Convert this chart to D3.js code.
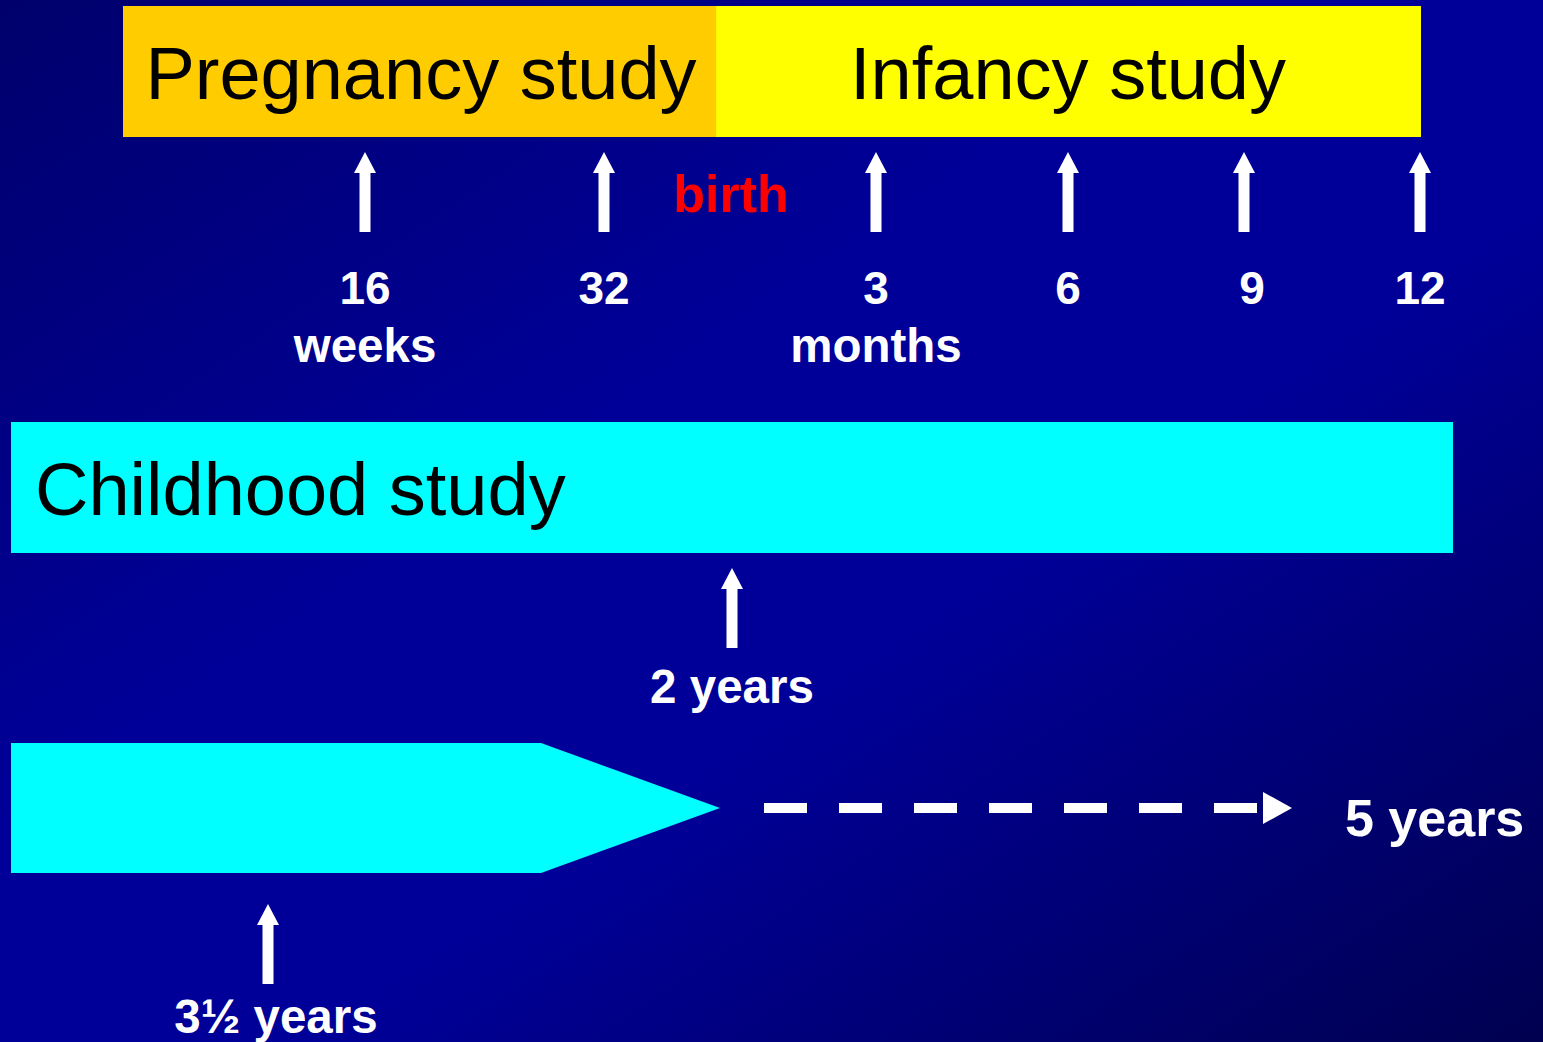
<!DOCTYPE html>
<html>
<head>
<meta charset="utf-8">
<title>Study timeline</title>
<script src="https://d3js.org/d3.v7.min.js"></script>
<style>
  body { margin: 0; background: #000080; overflow: hidden; }
  text { font-family: "Liberation Sans", Arial, sans-serif; }
</style>
</head>
<body>
<script>
    var studyNames = ["Pregnancy study", "Infancy study", "Childhood study"];
    var pregnancyWeeks = [16, 32];
    var pregnancyLabels = [["16", "weeks"], ["32"]];
    var infancyMonths = [3, 6, 9, 12];
    var infancyLabels = [["3", "months"], ["6"], ["9"], ["12"]];
    var birthWeek = 40;
    var childhoodYears = [2];
    var childhoodLabels = ["2 years"];
    var followUpYears = [3.5];
    var followUpLabels = ["3\u00bd years"];
    var followUpEnd = 5;
    var followUpEndLabel = "5 years";

    var width = 1543, height = 1042;

    var svg = d3.select("body").append("svg")
        .attr("width", width)
        .attr("height", height);

    // background: dark corners, brighter blue band across the middle
    var grad = svg.append("defs").append("linearGradient")
        .attr("id", "bg")
        .attr("x1", 0).attr("y1", 0).attr("x2", 1).attr("y2", 1);
    grad.selectAll("stop")
        .data([[0, "#00006c"], [0.4, "#000099"], [0.6, "#000098"], [1, "#000050"]])
        .enter().append("stop")
        .attr("offset", function(d){ return d[0]; })
        .attr("stop-color", function(d){ return d[1]; });
    svg.append("rect").attr("width", width).attr("height", height).attr("fill", "url(#bg)");

    // scales: gestation weeks, infant months, childhood years
    var xWeeks = d3.scaleLinear().domain([16, 32]).range([365, 604]);
    var xMonths = d3.scaleLinear().domain([3, 6, 9, 12]).range([876, 1068, 1244, 1420]);
    var xYears = d3.scaleLinear().domain([1, 3]).range([11, 1453]);
    var xFollow = d3.scaleLinear().domain([3, 3.5, 4, 5]).range([11, 268, 720, 1292]);

    var bar1 = {top: 6, h: 131}, bar2 = {top: 422, h: 131}, bar3 = {top: 743, h: 130};

    function arrow(g, x, tip) {
        var pts = [[x, tip], [x + 11, tip + 21], [x + 5.5, tip + 21], [x + 5.5, tip + 80],
                   [x - 5.5, tip + 80], [x - 5.5, tip + 21], [x - 11, tip + 21]];
        g.append("polygon").attr("points", pts.map(function(p){ return p.join(","); }).join(" "))
            .attr("fill", "white");
    }

    function label(g, x, y, txt, size, anchor) {
        return g.append("text").attr("x", x).attr("y", y)
            .attr("text-anchor", anchor || "middle")
            .attr("font-size", size).attr("font-weight", "bold")
            .attr("fill", "white").text(txt);
    }

    // top row: pregnancy and infancy bars
    var pregEnd = xWeeks(birthWeek - 0.5);
    svg.append("rect").attr("x", xWeeks(0) - 3).attr("y", bar1.top)
        .attr("width", pregEnd - xWeeks(0) + 3).attr("height", bar1.h).attr("fill", "#ffcc00");
    svg.append("rect").attr("x", pregEnd).attr("y", bar1.top)
        .attr("width", xMonths(12) + 1 - pregEnd).attr("height", bar1.h).attr("fill", "#ffff00");
    svg.append("text").attr("x", (xWeeks(0) + pregEnd) / 2).attr("y", 99)
        .attr("text-anchor", "middle").attr("font-size", 74).attr("fill", "black").text(studyNames[0]);
    svg.append("text").attr("x", (pregEnd + xMonths(12)) / 2).attr("y", 99)
        .attr("text-anchor", "middle").attr("font-size", 74).attr("fill", "black").text(studyNames[1]);

    var topRow = svg.append("g");
    pregnancyWeeks.forEach(function(w, i){
        arrow(topRow, xWeeks(w), 152);
        pregnancyLabels[i].forEach(function(t, j){ label(topRow, xWeeks(w), 304 + j * 58, t, j ? 47.5 : 46); });
    });
    infancyMonths.forEach(function(m, i){
        arrow(topRow, xMonths(m), 152);
        var dx = m === 9 ? 8 : 0;
        infancyLabels[i].forEach(function(t, j){ label(topRow, xMonths(m) + dx, 304 + j * 58, t, j ? 47.5 : 46); });
    });
    topRow.append("text").attr("x", xWeeks(birthWeek + 0.5)).attr("y", 212)
        .attr("text-anchor", "middle").attr("font-size", 52).attr("font-weight", "bold")
        .attr("fill", "#ff0000").text("birth");

    // childhood bar
    svg.append("rect").attr("x", xYears(1)).attr("y", bar2.top)
        .attr("width", xYears(3) - xYears(1)).attr("height", bar2.h).attr("fill", "#00ffff");
    svg.append("text").attr("x", xYears(1) + 24).attr("y", 515)
        .attr("font-size", 74).attr("fill", "black").text(studyNames[2]);
    childhoodYears.forEach(function(y, i){
        arrow(svg, xYears(y), 568);
        label(svg, xYears(y), 703, childhoodLabels[i], 47.5);
    });

    // follow-up arrow shape and dashed continuation
    var mid = bar3.top + bar3.h / 2;
    var shoulder = 541;
    svg.append("polygon")
        .attr("points", [[xFollow(3), bar3.top], [shoulder, bar3.top], [xFollow(4), mid],
                         [shoulder, bar3.top + bar3.h], [xFollow(3), bar3.top + bar3.h]]
              .map(function(p){ return p.join(","); }).join(" "))
        .attr("fill", "#00ffff");
    followUpYears.forEach(function(y, i){
        arrow(svg, xFollow(y), 904);
        label(svg, xFollow(y) + 8, 1033, followUpLabels[i], 47.5);
    });
    var dashEnd = xFollow(followUpEnd) - 32;
    svg.append("line").attr("x1", 764).attr("x2", dashEnd)
        .attr("y1", mid).attr("y2", mid)
        .attr("stroke", "white").attr("stroke-width", 10).attr("stroke-dasharray", "43,32");
    svg.append("polygon")
        .attr("points", [[dashEnd + 3, mid - 16], [xFollow(followUpEnd), mid], [dashEnd + 3, mid + 16]]
              .map(function(p){ return p.join(","); }).join(" "))
        .attr("fill", "white");
    label(svg, xFollow(followUpEnd) + 53, 836, followUpEndLabel, 52, "start");
</script>
</body>
</html>
